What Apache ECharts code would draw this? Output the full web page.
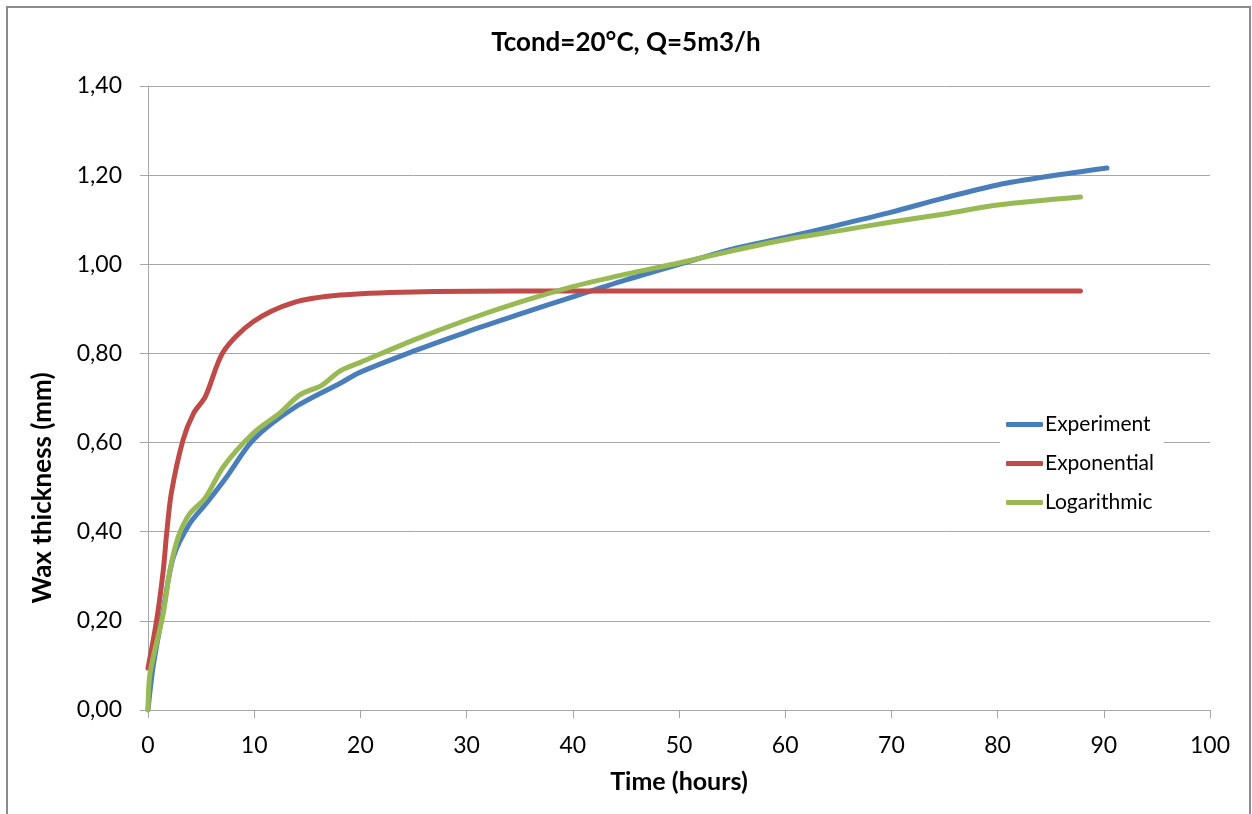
<!DOCTYPE html>
<html>
<head>
<meta charset="utf-8">
<script src="https://cdn.jsdelivr.net/npm/echarts@6/dist/echarts.min.js"></script>
<style>
  html, body { margin: 0; padding: 0; background: #fff; }
  #chart { width: 1252px; height: 814px; }
</style>
</head>
<body>
<div id="chart"></div>
<script>
// Wax thickness (mm) vs time (hours)
const experiment = [
  [0, 0], [0.5, 0.1], [1.4, 0.22], [2.4, 0.344], [3.95, 0.419], [5.5, 0.464], [7.4, 0.523],
  [9.9, 0.606], [13.7, 0.677], [18.1, 0.733], [20, 0.758], [25, 0.805], [30, 0.848],
  [35, 0.888], [40, 0.927], [45, 0.965], [50, 1.0], [55, 1.034], [60, 1.06], [65, 1.088],
  [70, 1.117], [75, 1.149], [80, 1.178], [85, 1.198], [90.3, 1.216]
]
const exponential = [
  [0, 0.094], [0.82, 0.202], [1.44, 0.314], [1.76, 0.397], [2.2, 0.487], [3.3, 0.606],
  [4.3, 0.666], [5.4, 0.703], [7.1, 0.804], [9.9, 0.871], [13.7, 0.914], [18.1, 0.931],
  [25, 0.938], [35, 0.94], [50, 0.94], [70, 0.94], [87.8, 0.94]
]
const logarithmic = [
  [0, 0], [0.2, 0.083], [1.44, 0.217], [2.07, 0.314], [2.86, 0.389], [3.95, 0.441],
  [5.37, 0.475], [7.1, 0.546], [9.9, 0.621], [12.4, 0.666], [14.3, 0.707], [16.4, 0.729],
  [18.1, 0.761], [20, 0.78], [25, 0.83], [30, 0.875], [35, 0.915], [40, 0.95], [45, 0.978],
  [50, 1.003], [55, 1.03], [60, 1.055], [65, 1.075], [70, 1.095], [75, 1.113], [80, 1.133],
  [87.8, 1.151]
]
const seriesNames = ['Experiment', 'Exponential', 'Logarithmic']
const seriesColors = ['#4a7ebb', '#be4b48', '#98b954']

const font = 'Lato, "Open Sans", sans-serif'
const chart = echarts.init(document.getElementById('chart'))

function lineSeries(name, data, color) {
  return {
    name,
    type: 'line',
    data,
    smooth: 0.3,
    showSymbol: false,
    symbol: 'none',
    lineStyle: { color, width: 5, cap: 'round', join: 'round' },
    itemStyle: { color }
  }
}

chart.setOption({
  animation: false,
  textStyle: { fontFamily: font },
  graphic: [{
    type: 'rect',
    shape: { x: 7, y: 7, width: 1243, height: 830 },
    style: { fill: 'none', stroke: '#8c8c8c', lineWidth: 2 },
    silent: true
  }],
  title: {
    text: 'Tcond=20°C, Q=5m3/h',
    left: 'center',
    top: 25,
    textStyle: { fontFamily: font, fontSize: 26, fontWeight: 'bold', color: '#000' }
  },
  legend: {
    orient: 'vertical',
    left: 1000,
    top: 410,
    padding: [4, 10, 4, 6],
    backgroundColor: '#fff',
    itemWidth: 37,
    itemHeight: 5,
    itemGap: 18,
    icon: 'roundRect',
    data: seriesNames,
    textStyle: { fontFamily: font, fontSize: 21, color: '#000', padding: [0, 0, 0, -3] }
  },
  grid: { left: 148, right: 42, top: 86, bottom: 104 },
  xAxis: {
    type: 'value',
    min: 0, max: 100, interval: 10,
    name: 'Time (hours)',
    nameLocation: 'middle',
    nameGap: 59,
    nameTextStyle: { fontFamily: font, fontSize: 25, fontWeight: 'bold', color: '#000' },
    axisLine: { lineStyle: { color: '#a6a6a6', width: 1 } },
    axisTick: { show: true, inside: false, length: 8, lineStyle: { color: '#a6a6a6' } },
    axisLabel: { fontFamily: font, fontSize: 23, color: '#000', margin: 24 },
    splitLine: { show: false }
  },
  yAxis: {
    type: 'value',
    min: 0, max: 1.4, interval: 0.2,
    name: 'Wax thickness (mm)',
    nameLocation: 'middle',
    nameGap: 92,
    nameTextStyle: {
      fontFamily: font, fontSize: 26, fontWeight: 'bold', color: '#000',
      padding: [0, 180, 0, 0]
    },
    axisLine: { show: true, lineStyle: { color: '#a6a6a6', width: 1 } },
    axisTick: { show: true, inside: false, length: 8, lineStyle: { color: '#a6a6a6' } },
    axisLabel: {
      fontFamily: font, fontSize: 23, color: '#000', margin: 26,
      formatter: (v) => v.toFixed(2).replace('.', ',')
    },
    splitLine: { show: true, lineStyle: { color: '#a6a6a6', width: 1 } }
  },
  series: [
    lineSeries(seriesNames[0], experiment, seriesColors[0]),
    lineSeries(seriesNames[1], exponential, seriesColors[1]),
    lineSeries(seriesNames[2], logarithmic, seriesColors[2])
  ]
})
</script>
</body>
</html>
